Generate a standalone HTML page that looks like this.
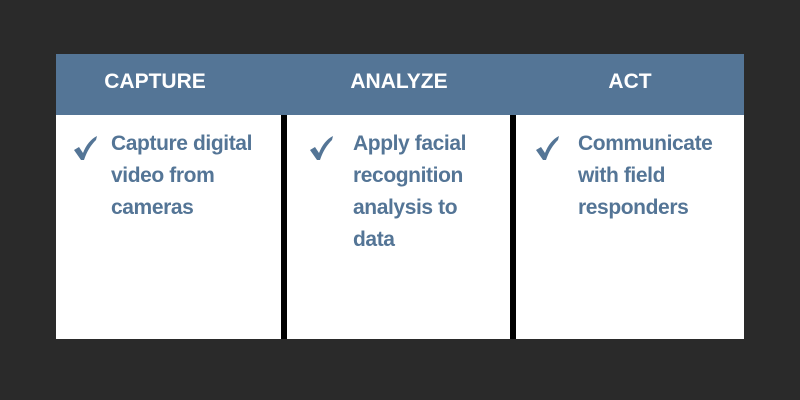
<!DOCTYPE html>
<html><head><meta charset="utf-8"><style>
body{margin:0;width:800px;height:400px;background:#2a2a2a;position:relative;overflow:hidden;font-family:"Liberation Sans",sans-serif;font-weight:bold}
.box{position:absolute;left:56px;top:54px;width:688px;height:285px;background:#fff}
.hd{position:absolute;left:56px;top:54px;width:688px;height:61px;background:#547596}
.bar{position:absolute;top:115px;height:224px;width:6px;background:#000}
.h{position:absolute;top:70px;color:#fff;font-size:21px;transform:translateX(-50%);white-space:nowrap}
.t{position:absolute;top:128px;color:#547596;font-size:21px;line-height:32px;letter-spacing:-0.4px}
svg{position:absolute}
</style></head><body>
<div class="box"></div><div class="hd"></div>
<div class="bar" style="left:281px"></div><div class="bar" style="left:510px"></div>
<div class="h" style="left:155px">CAPTURE</div>
<div class="h" style="left:399px">ANALYZE</div>
<div class="h" style="left:630px">ACT</div>
<svg style="left:74px;top:136px" width="24" height="26" viewBox="0 0 24 26"><path d="M0 14 L5 11 L9 17 C12 9 17 3 23 0 L22 4 C17 9 13 15 10 24 L7 24 Z" fill="#547596"/></svg>
<svg style="left:310px;top:136px" width="24" height="26" viewBox="0 0 24 26"><path d="M0 14 L5 11 L9 17 C12 9 17 3 23 0 L22 4 C17 9 13 15 10 24 L7 24 Z" fill="#547596"/></svg>
<svg style="left:536px;top:136px" width="24" height="26" viewBox="0 0 24 26"><path d="M0 14 L5 11 L9 17 C12 9 17 3 23 0 L22 4 C17 9 13 15 10 24 L7 24 Z" fill="#547596"/></svg>
<div class="t" style="left:111px">Capture digital<br>video from<br>cameras</div>
<div class="t" style="left:353px">Apply facial<br>recognition<br>analysis to<br>data</div>
<div class="t" style="left:578px">Communicate<br>with field<br>responders</div>
</body></html>
